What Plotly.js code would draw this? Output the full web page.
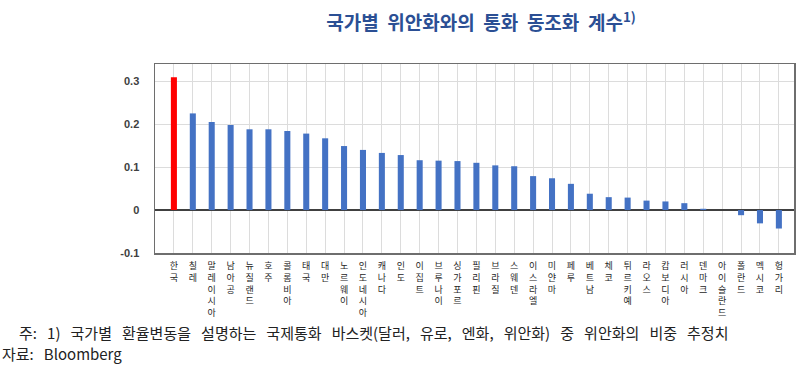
<!DOCTYPE html>
<html>
<head>
<meta charset="utf-8">
<script src="https://cdn.plot.ly/plotly-3.0.1.min.js"></script>
<style>html,body{margin:0;padding:0;background:#fff;}</style>
</head>
<body>
<div id="chart" style="width:800px;height:371px;"></div>
<script>
const categories = ['한국','칠레','말레이시아','남아공','뉴질랜드','호주','콜롬비아','태국','대만','노르웨이','인도네시아','캐나다','인도','이집트','브루나이','싱가포르','필리핀','브라질','스웨덴','이스라엘','미얀마','페루','베트남','체코','튀르키예','라오스','캄보디아','러시아','덴마크','아이슬란드','폴란드','멕시코','헝가리'];
const values = [0.309,0.225,0.205,0.198,0.188,0.188,0.184,0.178,0.167,0.149,0.140,0.133,0.128,0.116,0.115,0.114,0.110,0.104,0.102,0.079,0.074,0.061,0.038,0.030,0.029,0.022,0.020,0.016,0.003,0.0,-0.012,-0.031,-0.043];
const yTickVals = [-0.1,0,0.1,0.2,0.3];
const yTickText = ['-0.1','0','0.1','0.2','0.3'];
const highlight = '한국';
const titleText = '국가별 위안화와의 통화 동조화 계수';
const noteText = '주: 1) 국가별 환율변동을 설명하는 국제통화 바스켓(달러, 유로, 엔화, 위안화) 중 위안화의 비중 추정치';
const sourceText = '자료: Bloomberg';

const wide = (s, n) => s.split(' ').join(' ' + '\u00A0'.repeat(n));
const tickLabels = categories.map(c => c.split('').join('<br>'));
const colors = categories.map(c => c === highlight ? '#ff0000' : '#4472c4');

const trace = {
  type: 'bar',
  x: categories,
  y: values,
  marker: {color: colors},
  hoverinfo: 'x+y'
};

const layout = {
  width: 800, height: 371,
  margin: {l:155, r:6, t:64, b:118, pad:0},
  paper_bgcolor: '#ffffff',
  plot_bgcolor: '#ffffff',
  bargap: 0.68,
  showlegend: false,
  font: {family: '"Noto Sans CJK KR", "Noto Sans", sans-serif', color: '#333333'},
  title: {
    text: wide(titleText, 1) + '<sup>1)</sup>',
    font: {family: '"Noto Sans CJK KR", sans-serif', size: 19, color: '#2b4f94', weight: 'bold'},
    x: 481/800, xanchor: 'center', xref: 'container',
    y: 1 - 23/371, yanchor: 'middle', yref: 'container'
  },
  xaxis: {
    type: 'category',
    range: [-1, 32.8],
    tickmode: 'array',
    tickvals: categories,
    ticktext: tickLabels,
    tickangle: 0,
    tickfont: {family: '"Noto Sans CJK KR", sans-serif', size: 9, color: '#262626'},
    showgrid: true, gridcolor: '#dcdcdc', gridwidth: 1,
    showline: true, mirror: true, linecolor: '#6e6e6e', linewidth: 1.5,
    ticks: '', ticklabelstandoff: 4,
    fixedrange: true
  },
  yaxis: {
    range: [-0.1, 0.34],
    tickmode: 'array',
    tickvals: yTickVals,
    ticktext: yTickText,
    tickfont: {family: '"Liberation Sans", Arial, sans-serif', size: 11, color: '#404040', weight: 'bold'},
    showgrid: true, gridcolor: '#dcdcdc', gridwidth: 1,
    zeroline: true, zerolinecolor: '#404040', zerolinewidth: 1.2,
    showline: true, mirror: true, linecolor: '#6e6e6e', linewidth: 1.5,
    ticks: '', ticklabelstandoff: 12,
    fixedrange: true
  },
  annotations: [
    {text: wide(noteText, 2),
     xref: 'paper', yref: 'paper', x: (17-155)/639, y: -(332-253)/189, xanchor: 'left', yanchor: 'middle',
     showarrow: false, font: {family: '"Noto Sans CJK KR", sans-serif', size: 15, color: '#222222'}},
    {text: wide(sourceText, 2),
     xref: 'paper', yref: 'paper', x: (0-155)/639, y: -(353-253)/189, xanchor: 'left', yanchor: 'middle',
     showarrow: false, font: {family: '"Noto Sans CJK KR", sans-serif', size: 15, color: '#222222'}}
  ]
};

Plotly.newPlot('chart', [trace], layout, {displayModeBar: false, staticPlot: true});
</script>
</body>
</html>
